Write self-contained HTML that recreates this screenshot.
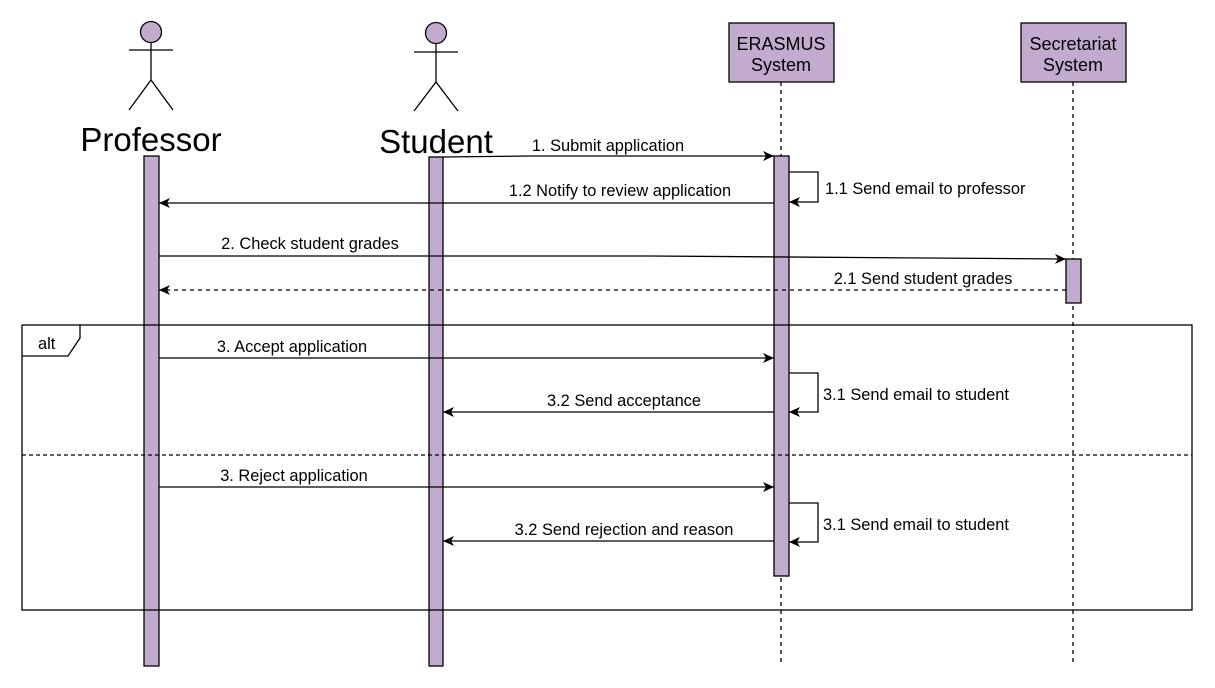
<!DOCTYPE html>
<html><head><meta charset="utf-8"><style>html,body{margin:0;padding:0;background:#fff}svg{display:block}text{font-family:"Liberation Sans",Arial,sans-serif;fill:#000}</style></head>
<body>
<svg width="1215" height="688" viewBox="0 0 1215 688" xmlns="http://www.w3.org/2000/svg">
<defs><marker id="a" markerWidth="12" markerHeight="10" refX="11" refY="5" orient="auto" markerUnits="userSpaceOnUse"><path d="M0,0 L11,5 L0,10 L3,5 Z" fill="#000"/></marker></defs>
<g stroke="#000" stroke-width="1.3" fill="none">
<circle cx="151" cy="32" r="10.5" fill="#C3ABD0"/>
<line x1="129" y1="50" x2="173" y2="50"/><line x1="151" y1="43" x2="151" y2="80"/>
<polyline points="129,110 151,80 173,110"/>
<circle cx="436" cy="33" r="10.5" fill="#C3ABD0"/>
<line x1="414" y1="52" x2="458" y2="52"/><line x1="436" y1="44" x2="436" y2="82"/>
<polyline points="414,111 436,82 458,111"/>
<rect x="729" y="23" width="105" height="59" fill="#C3ABD0"/>
<rect x="1021" y="23" width="105" height="59" fill="#C3ABD0"/>
<line x1="781" y1="82" x2="781" y2="662" stroke-dasharray="4,4"/>
<line x1="1073" y1="82" x2="1073" y2="662" stroke-dasharray="4,4"/>
<rect x="144" y="156" width="15" height="510" fill="#C3ABD0"/>
<rect x="429" y="157" width="14" height="509" fill="#C3ABD0"/>
<rect x="774" y="156" width="15" height="420" fill="#C3ABD0"/>
<rect x="1066" y="259" width="15" height="44" fill="#C3ABD0"/>
<rect x="22" y="325" width="1170" height="285"/>
<polyline points="80,325 80,338 68,356 22,356"/>
<line x1="22" y1="455" x2="1192" y2="455" stroke-dasharray="4,3"/>
<polyline points="443,157 530,156 774,156" marker-end="url(#a)"/>
<polyline points="789,172 818,172 818,202 789,202" marker-end="url(#a)"/>
<line x1="774" y1="203" x2="159" y2="203" marker-end="url(#a)"/>
<polyline points="159,256 650,256 1066,259" marker-end="url(#a)"/>
<line x1="1066" y1="290" x2="159" y2="290" stroke-dasharray="4,4" marker-end="url(#a)"/>
<line x1="159" y1="358" x2="774" y2="358" marker-end="url(#a)"/>
<polyline points="789,373 818,373 818,412 789,412" marker-end="url(#a)"/>
<line x1="774" y1="412" x2="443" y2="412" marker-end="url(#a)"/>
<line x1="159" y1="487" x2="774" y2="487" marker-end="url(#a)"/>
<polyline points="789,503 818,503 818,542 789,542" marker-end="url(#a)"/>
<line x1="774" y1="541" x2="443" y2="541" marker-end="url(#a)"/>
</g>
<g font-size="33" text-anchor="middle">
<text x="151" y="151">Professor</text>
<text x="436" y="153">Student</text>
</g>
<g font-size="18" text-anchor="middle">
<text x="781" y="50">ERASMUS</text><text x="781" y="71">System</text>
<text x="1073" y="50">Secretariat</text><text x="1073" y="71">System</text>
</g>
<g font-size="16.4" text-anchor="middle">
<text x="608" y="151">1. Submit application</text>
<text x="620" y="196">1.2 Notify to review application</text>
<text x="310" y="249">2. Check student grades</text>
<text x="923" y="284">2.1 Send student grades</text>
<text x="292" y="352">3. Accept application</text>
<text x="624" y="406">3.2 Send acceptance</text>
<text x="294" y="481">3. Reject application</text>
<text x="624" y="535">3.2 Send rejection and reason</text>
</g>
<g font-size="16.4">
<text x="825" y="194">1.1 Send email to professor</text>
<text x="823" y="400">3.1 Send email to student</text>
<text x="823" y="530">3.1 Send email to student</text>
<text x="38" y="349">alt</text>
</g>
</svg>
</body></html>
